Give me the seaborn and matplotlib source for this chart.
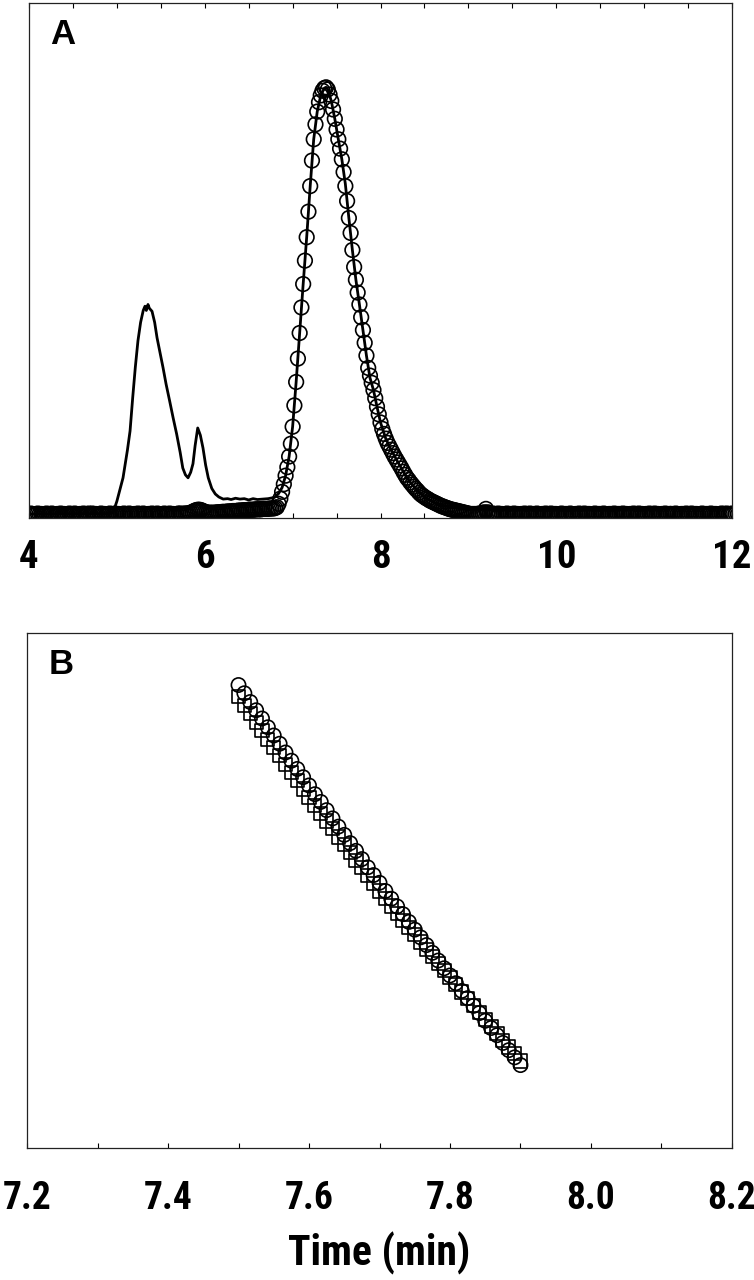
import numpy as np
import pandas as pd
import matplotlib
matplotlib.use("Agg")
import matplotlib.pyplot as plt
from matplotlib import font_manager
import seaborn as sns

# ---- Panel A: chromatograms (time in min, normalised signal) ----
# solid trace (crude sample)
trace_time = [4.00, 4.50, 4.90, 4.956, 5.00, 5.07, 5.12, 5.15, 5.18, 5.21,
              5.24, 5.27, 5.30, 5.32, 5.335, 5.354, 5.37, 5.40, 5.43, 5.457,
              5.49, 5.525, 5.56, 5.60, 5.64, 5.68, 5.72, 5.75, 5.78, 5.81,
              5.84, 5.866, 5.89, 5.92, 5.95, 5.98, 6.01, 6.04, 6.08, 6.12,
              6.16, 6.21, 6.26, 6.30, 6.35, 6.40, 6.45, 6.50, 6.55, 6.60,
              6.66, 6.72, 6.77, 6.80, 6.84, 6.88, 6.92, 6.96, 7.00, 7.04,
              7.08, 7.12, 7.16, 7.20, 7.24, 7.28, 7.32, 7.36, 7.38, 7.40,
              7.44, 7.48, 7.52, 7.56, 7.60, 7.64, 7.68, 7.72, 7.76, 7.80,
              7.84, 7.88, 7.92, 7.96, 8.00, 8.06, 8.12, 8.20, 8.30, 8.40,
              8.50, 8.60, 8.70, 8.80, 8.90, 9.00, 9.20, 9.40, 9.60, 9.80,
              10.0, 10.2, 10.4, 10.6, 10.8, 11.0, 11.2, 11.3, 11.4, 11.5,
              11.6, 11.7, 11.8, 11.9, 12.0]
trace_signal = [0.000, 0.001, 0.001, 0.003, 0.030, 0.085, 0.150, 0.195, 0.273, 0.345,
                0.407, 0.450, 0.478, 0.488, 0.478, 0.492, 0.483, 0.476, 0.450, 0.414,
                0.380, 0.344, 0.305, 0.266, 0.226, 0.188, 0.145, 0.108, 0.092, 0.085,
                0.098, 0.118, 0.160, 0.202, 0.185, 0.155, 0.115, 0.085, 0.060, 0.047,
                0.040, 0.035, 0.036, 0.034, 0.037, 0.035, 0.036, 0.033, 0.036, 0.034,
                0.035, 0.036, 0.038, 0.040, 0.048, 0.062, 0.090, 0.135, 0.205, 0.310,
                0.425, 0.540, 0.650, 0.770, 0.880, 0.945, 0.983, 1.000, 1.002, 0.997,
                0.970, 0.928, 0.880, 0.833, 0.775, 0.695, 0.620, 0.550, 0.492, 0.432,
                0.372, 0.320, 0.291, 0.252, 0.215, 0.177, 0.151, 0.121, 0.085, 0.059,
                0.040, 0.028, 0.020, 0.016, 0.013, 0.012, 0.011, 0.010, 0.010, 0.009,
                0.010, 0.009, 0.010, 0.010, 0.011, 0.011, 0.012, 0.016, 0.012, 0.014,
                0.013, 0.015, 0.014, 0.016, 0.015]

# open circles (purified sample), sampled every 0.02 min from 4.00 to 12.00
circle_start, circle_step = 4.00, 0.02
circle_baseline_left = [  # 4.00 - 6.68
    0.000, 0.001, 0.000, -0.001, 0.000, 0.001, 0.000, 0.000, -0.001, 0.000,
    0.001, 0.000, 0.000, 0.001, 0.000, -0.001, 0.000, 0.000, 0.001, 0.000,
    0.000, -0.001, 0.000, 0.001, 0.000, 0.000, 0.001, 0.000, -0.001, 0.000,
    0.000, 0.001, 0.000, 0.000, 0.001, 0.000, 0.001, 0.000, 0.000, -0.001,
    0.000, 0.001, 0.000, 0.000, -0.001, 0.000, 0.001, 0.000, 0.000, 0.001,
    0.000, 0.000, -0.001, 0.000, 0.001, 0.000, 0.000, 0.001, 0.000, -0.001,
    0.000, 0.000, 0.001, 0.000, 0.000, 0.001, 0.000, -0.001, 0.000, 0.000,
    0.001, 0.000, 0.000, 0.001, 0.000, -0.001, 0.000, 0.001, 0.000, 0.000,
    0.001, 0.000, 0.000, -0.001, 0.000, 0.001, 0.001, 0.000, 0.001, 0.001,
    0.001, 0.002, 0.003, 0.005, 0.007, 0.009, 0.010, 0.010, 0.009, 0.007,
    0.005, 0.004, 0.003, 0.003, 0.003, 0.003, 0.003, 0.004, 0.004, 0.004,
    0.005, 0.005, 0.005, 0.006, 0.006, 0.006, 0.007, 0.007, 0.007, 0.008,
    0.008, 0.008, 0.009, 0.009, 0.009, 0.010, 0.010, 0.010, 0.010, 0.011,
    0.011, 0.011, 0.011, 0.012, 0.012]
circle_peak = [  # 6.70 - 9.10
    0.012, 0.012, 0.013, 0.013, 0.013, 0.014, 0.016, 0.024, 0.036, 0.052,
    0.070, 0.090, 0.110, 0.135, 0.165, 0.205, 0.255, 0.310, 0.365, 0.425,
    0.485, 0.540, 0.595, 0.650, 0.710, 0.770, 0.830, 0.880, 0.915, 0.945,
    0.967, 0.983, 0.994, 1.000, 1.002, 0.997, 0.985, 0.970, 0.950, 0.928,
    0.903, 0.880, 0.858, 0.833, 0.803, 0.770, 0.735, 0.695, 0.660, 0.620,
    0.580, 0.550, 0.520, 0.492, 0.462, 0.432, 0.402, 0.372, 0.343, 0.325,
    0.308, 0.291, 0.272, 0.252, 0.234, 0.215, 0.200, 0.188, 0.177, 0.167,
    0.159, 0.151, 0.143, 0.135, 0.128, 0.121, 0.114, 0.107, 0.099, 0.092,
    0.085, 0.080, 0.074, 0.069, 0.064, 0.059, 0.055, 0.050, 0.046, 0.043,
    0.040, 0.037, 0.035, 0.032, 0.030, 0.028, 0.026, 0.024, 0.022, 0.020,
    0.018, 0.017, 0.015, 0.014, 0.012, 0.011, 0.010, 0.009, 0.008, 0.007,
    0.006, 0.005, 0.004, 0.003, 0.002, 0.001, 0.000, 0.000, 0.000, 0.000,
    0.000]
circle_baseline_right = [  # 9.12 - 12.00
    0.001, 0.001, 0.002, 0.004, 0.012, 0.004, 0.001, 0.000, 0.001, 0.000,
    0.000, 0.001, 0.000, 0.000, -0.001, 0.000, 0.001, 0.000, 0.000, 0.000,
    0.001, 0.000, 0.000, -0.001, 0.000, 0.000, 0.001, 0.000, 0.000, 0.001,
    0.000, 0.000, 0.000, 0.001, 0.000, -0.001, 0.000, 0.000, 0.001, 0.000,
    0.000, 0.001, 0.000, 0.000, 0.000, -0.001, 0.000, 0.001, 0.000, 0.000,
    0.000, 0.000, 0.001, 0.000, -0.001, 0.000, 0.000, 0.001, 0.000, 0.000,
    0.001, 0.000, 0.000, 0.000, -0.001, 0.000, 0.001, 0.000, 0.000, 0.000,
    0.000, 0.001, 0.000, -0.001, 0.000, 0.000, 0.000, 0.001, 0.000, 0.000,
    0.000, 0.000, 0.001, 0.000, 0.000, -0.001, 0.000, 0.000, 0.001, 0.000,
    0.000, 0.001, 0.000, 0.000, -0.001, 0.000, 0.000, 0.001, 0.000, 0.000,
    0.001, 0.000, 0.000, -0.001, 0.000, 0.000, 0.001, 0.000, 0.000, 0.000,
    0.000, 0.000, 0.001, 0.000, -0.001, 0.000, 0.000, 0.000, 0.001, 0.000,
    0.000, 0.001, 0.000, 0.000, 0.000, -0.001, 0.000, 0.001, 0.000, 0.000,
    0.000, 0.000, 0.001, 0.000, 0.000, 0.000, -0.001, 0.000, 0.001, 0.000,
    0.000, 0.001, 0.000, 0.000, 0.001]

# ---- Panel B: 7.5-7.9 min, two runs ----
zoom_start, zoom_step = 7.50, 1 / 120
zoom_circles = [0.899, 0.883, 0.866, 0.850, 0.834, 0.817, 0.801, 0.785, 0.768, 0.752,
                0.736, 0.720, 0.704, 0.687, 0.672, 0.656, 0.640, 0.624, 0.608, 0.592,
                0.577, 0.561, 0.545, 0.530, 0.515, 0.499, 0.484, 0.469, 0.454, 0.439,
                0.424, 0.409, 0.394, 0.379, 0.364, 0.349, 0.335, 0.320, 0.305, 0.291,
                0.276, 0.262, 0.247, 0.233, 0.219, 0.204, 0.190, 0.176, 0.161]
zoom_squares = [0.876, 0.860, 0.843, 0.827, 0.811, 0.794, 0.778, 0.762, 0.745, 0.729,
                0.713, 0.697, 0.681, 0.665, 0.650, 0.635, 0.620, 0.604, 0.589, 0.574,
                0.559, 0.544, 0.529, 0.514, 0.499, 0.485, 0.470, 0.456, 0.442, 0.428,
                0.414, 0.400, 0.386, 0.372, 0.358, 0.344, 0.331, 0.317, 0.303, 0.290,
                0.276, 0.263, 0.249, 0.236, 0.223, 0.209, 0.196, 0.183, 0.169]

a_ticks = [4, 6, 8, 10, 12]
b_ticks = [7.2, 7.4, 7.6, 7.8, 8.0, 8.2]


def sampled(start, step, values):
    t = start + step * np.arange(len(values))
    return pd.DataFrame({"time": t, "signal": values})


circles_a = sampled(circle_start, circle_step,
                    circle_baseline_left + circle_peak + circle_baseline_right)
trace_a = pd.DataFrame({"time": trace_time, "signal": trace_signal})
circ_b = sampled(zoom_start, zoom_step, zoom_circles)
sq_b = sampled(zoom_start, zoom_step, zoom_squares)

# a narrow bold face for the numbers if one is installed
names = {f.name for f in font_manager.fontManager.ttflist}
narrow = [n for n in ("Liberation Sans Narrow", "Arial Narrow", "Roboto Condensed")
          if n in names]
num_family = narrow[:1] + ["Liberation Sans", "DejaVu Sans"]
num_size = 27 if narrow else 24

sns.set_theme(style="ticks")
plt.rcParams["font.family"] = num_family
plt.rcParams["font.weight"] = "bold"
plt.rcParams["text.color"] = "black"
plt.rcParams["axes.labelcolor"] = "black"

fig = plt.figure(figsize=(7.54, 12.8), dpi=100)
axA = fig.add_axes([29 / 754, 1 - 518 / 1280, 703 / 754, 515 / 1280])
axB = fig.add_axes([27 / 754, 1 - 1148 / 1280, 705 / 754, 515 / 1280])

# panel A
sns.lineplot(data=trace_a, x="time", y="signal", ax=axA, color="black",
             linewidth=2.0, sort=False, estimator=None)
sns.scatterplot(data=circles_a, x="time", y="signal", ax=axA, marker="o", s=110,
                facecolor="none", edgecolor="black", linewidth=1.2)
axA.set_xlim(4, 12)
axA.set_ylim(-0.0094, 1.2)
axA.set_xticks(a_ticks)
axA.set_xticks(np.arange(4, 12.01, 0.5), minor=True)
axA.set_yticks([])
axA.tick_params(axis="x", which="both", direction="in", top=True, length=3.5,
                width=0.8, colors="black", labelsize=num_size + 1, pad=15)
axA.text(0.03, 0.97, "A", transform=axA.transAxes, ha="left", va="top",
         fontsize=25, fontweight="bold", color="black",
         family=["Liberation Sans", "DejaVu Sans"])

# panel B
sns.scatterplot(data=circ_b, x="time", y="signal", ax=axB, marker="o", s=105,
                facecolor="none", edgecolor="black", linewidth=1.2)
sns.scatterplot(data=sq_b, x="time", y="signal", ax=axB, marker="s", s=90,
                facecolor="none", edgecolor="black", linewidth=1.2)
axB.set_xlim(7.2, 8.2)
axB.set_ylim(0, 1)
axB.set_xticks(b_ticks)
axB.set_xticklabels([f"{t:.1f}" for t in b_ticks])
axB.set_xticks(np.arange(7.2, 8.201, 0.1), minor=True)
axB.set_yticks([])
axB.tick_params(axis="x", which="both", direction="in", length=3.5, width=0.8,
                colors="black", labelsize=num_size, pad=23)
axB.text(0.03, 0.97, "B", transform=axB.transAxes, ha="left", va="top",
         fontsize=25, fontweight="bold", color="black",
         family=["Liberation Sans", "DejaVu Sans"])
axB.set_xlabel("Time (min)", fontsize=num_size + 3, fontweight="bold", labelpad=11)

axA.set_xlabel("")
for ax in (axA, axB):
    ax.set_ylabel("")
    for sp in ax.spines.values():
        sp.set_visible(True)
        sp.set_color("#222222")
        sp.set_linewidth(0.9)

fig.savefig("out.png", dpi=100)
